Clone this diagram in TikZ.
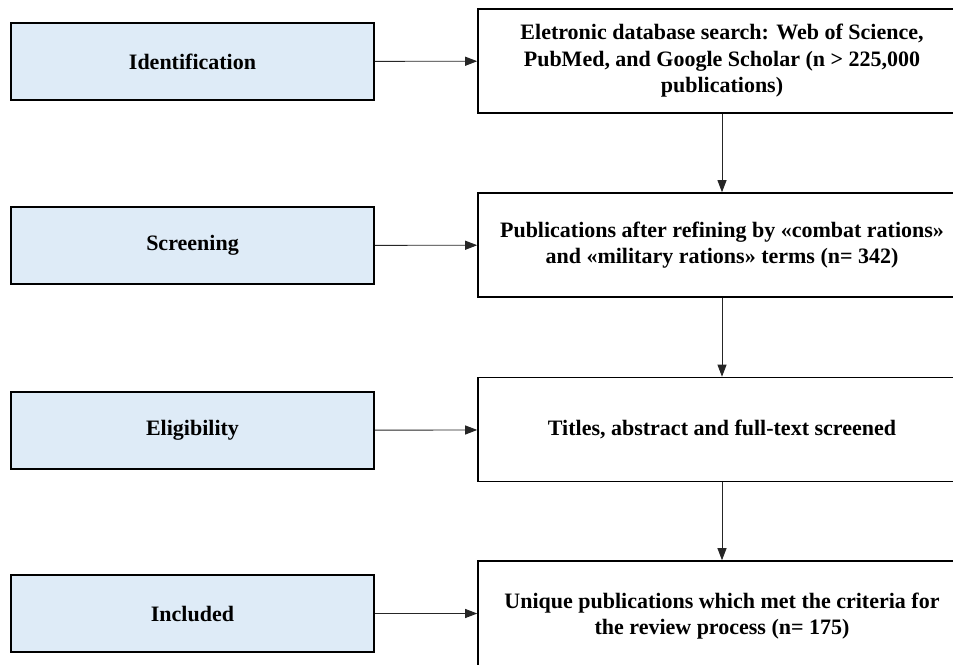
\documentclass[tikz,border=0pt]{standalone}
\usepackage{fontspec}
\setmainfont{Liberation Serif}
\usetikzlibrary{arrows.meta}
\definecolor{stagefill}{HTML}{DEEBF7}
\begin{document}
\begin{tikzpicture}[x=1pt,y=-1pt,
  stage/.style={draw, line width=1.6pt, fill=stagefill, minimum width=363pt, minimum height=77pt, inner sep=0pt, font=\fontsize{22}{26}\selectfont\bfseries},
  record/.style={draw, line width=1.6pt, fill=white, minimum width=488pt, minimum height=104pt, inner sep=0pt, align=center, font=\fontsize{22}{26.5}\selectfont\bfseries},
  flow/.style={draw=black!85, line width=0.9pt, -{Triangle[length=12pt,width=9pt]}}]
\useasboundingbox (0,0) rectangle (953,664);
\node[stage] (sid) at (192.5,61.5){Identification};
\node[stage] (sscr) at (192.5,245.5){Screening};
\node[stage] (selg) at (192.5,430.5){Eligibility};
\node[stage] (sinc) at (192.5,613.5){Included};
\node[record] (rid) at (722,61){Eletronic database search: Web of Science,\\PubMed, and Google Scholar (n > 225,000\\publications)};
\node[record] (rscr) at (722,245){Publications after refining by «combat rations»\\and «military rations» terms (n= 342)};
\node[record] (relg) at (722,429.5){Titles, abstract and full-text screened};
\node[record, minimum height=110pt] (rinc) at (722,616){Unique publications which met the criteria for\\the review process (n= 175)};
\draw[flow](sid) -- (rid);
\draw[flow](sscr) -- (rscr);
\draw[flow](selg) -- (relg);
\draw[flow](sinc) -- (sinc -| rinc.west);
\draw[flow](rid) -- (rscr);
\draw[flow](rscr) -- (relg);
\draw[flow](relg) -- (rinc);
\end{tikzpicture}
\end{document}
